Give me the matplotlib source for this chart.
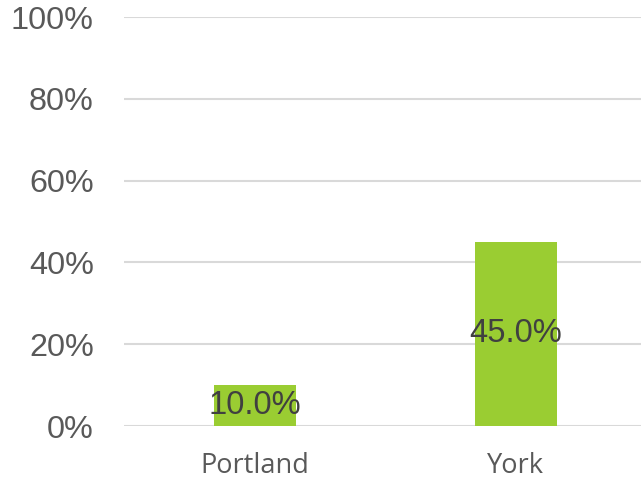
import matplotlib.pyplot as plt
from matplotlib.ticker import FuncFormatter

# datos
ciudades = ['Portland', 'York']
valores = [10.0, 45.0]
marcas_y = [0, 20, 40, 60, 80, 100]

fig = plt.figure(figsize=(6.41, 4.83), dpi=100)
ax = fig.add_axes([0.194, 0.118, 0.8144, 0.8468])

x = range(len(ciudades))
barras = ax.bar(x, valores, width=0.314, color='#9ACD32', zorder=2)

for b, v in zip(barras, valores):
    ax.text(b.get_x() + b.get_width() / 2, v / 2, f'{v:.1f}%',
            ha='center', va='center', fontsize=23.5,
            family='Liberation Sans', color='#404040', zorder=3)

ax.set_xlim(-0.5, 1.5)
ax.set_ylim(0, 100)
ax.set_yticks(marcas_y)
ax.yaxis.set_major_formatter(FuncFormatter(lambda v, p: f'{v:.0f}%'))
ax.set_xticks(list(x))
ax.set_xticklabels(ciudades, family='Open Sans', fontsize=19.5, color='#595959')
for t in ax.get_yticklabels():
    t.set_family('Liberation Sans')
    t.set_fontsize(23.3)
    t.set_color('#595959')

ax.grid(axis='y', color='#d9d9d9', linewidth=1.5, zorder=0)
ax.set_axisbelow(True)
for s in ax.spines.values():
    s.set_visible(False)
ax.tick_params(axis='y', length=0, pad=22)
ax.tick_params(axis='x', length=0, pad=19)

plt.savefig('out.png', dpi=100)
